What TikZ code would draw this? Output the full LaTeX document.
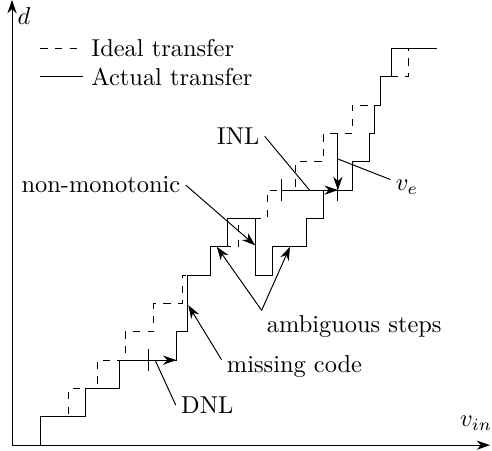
\documentclass[tikz,border=0pt]{standalone}
\usepackage{amsmath,amssymb}
\usepackage{tikz}
\usetikzlibrary{arrows.meta,positioning}

\begin{document}
\begin{tikzpicture}[
x=0.408cm,
y=0.408cm,
axis/.style={-{Stealth[length=5.5pt,width=3.8pt]}},
ideal/.style={dashed},
actual/.style={solid},
pointer/.style={-{Stealth[length=5.5pt,width=3.8pt]}},
lbl/.style={inner sep=2pt}
]

\useasboundingbox (-0.424,-0.176) rectangle (16.94,15.71);

\coordinate (origin) at (0,0);
\coordinate (xtip) at (16.87,0);
\coordinate (ytip) at (0,15.71);

\draw[axis] (origin) -- (xtip);
\draw[axis] (origin) -- (ytip);

\node[lbl] (dlabel) at (0.42,15.14) {$d$};
\node[lbl] (vinlabel) at (16.38,0.77) {$v_{in}$};

\node[anchor=west] (idealtext) at (2.5,14) {Ideal transfer};
\node[anchor=west] (actualtext) at (2.5,13) {Actual transfer};
\coordinate (idealkey) at (1,14);
\coordinate (actualkey) at (1,13);
\draw[ideal] (idealkey) -- (idealtext.west);
\draw[actual] (actualkey) -- (actualtext.west);

\draw[ideal] (origin) \foreach \k in {1,...,14} { -| (\k,\k) } -- (15,14);

\draw[actual] (origin) -- (1,0) |- (2.6,1) |- (3.8,2) |- (5.8,3) |- (6.2,4)
  |- (7,6) |- (7.6,7) |- (8.6,8) |- (9.2,6) |- (10.4,7) |- (11,8) |- (12,9)
  |- (12.6,10) |- (12.8,11) |- (13,12) |- (13.4,13) |- (15,14);

\coordinate (dnlstart) at (4.8,3);
\coordinate (dnlend) at (5.8,3);
\draw (dnlstart) ++(0,-0.4) -- ++(0,0.8);
\draw[pointer] (dnlstart) -- (dnlend);

\coordinate (inlstart) at (9.5,9);
\coordinate (inlend) at (11.5,9);
\coordinate (vetop) at (11.5,11);
\draw (inlstart) ++(0,-0.4) -- ++(0,0.8);
\draw (inlend) ++(0,-0.4) -- ++(0,0.8);
\draw[pointer] (inlstart) -- (inlend);
\draw[pointer] (vetop) -- (inlend);

\node[lbl] (nonmono) at (3.14,9.18) {non-monotonic};
\node[lbl] (inl) at (7.98,10.9) {INL};
\node[lbl] (ve) at (13.94,9.1) {$v_e$};
\node[lbl] (ambig) at (12.08,4.18) {ambiguous steps};
\node[lbl] (misscode) at (9.97,2.79) {missing code};
\node[lbl] (dnl) at (6.89,1.41) {DNL};

\coordinate (nonmonotip) at (8.58,7.05);
\coordinate (ambtipa) at (7.23,7);
\coordinate (ambtipb) at (9.81,7);
\coordinate (misstip) at (6.22,4.94);
\coordinate (inlfoot) at (10.5,9);
\coordinate (vefoot) at (11.5,10.1);
\coordinate (dnlfoot) at (5.05,3);

\draw[pointer] (nonmono.east) -- (nonmonotip);
\draw (inl.east) -- (inlfoot);
\draw (vefoot) -- (ve.155);
\draw[pointer] (ambig.north west) -- (ambtipa);
\draw[pointer] (ambig.north west) -- (ambtipb);
\draw[pointer] (misscode.175) -- (misstip);
\draw (dnlfoot) -- (dnl.west);

\end{tikzpicture}
\end{document}
